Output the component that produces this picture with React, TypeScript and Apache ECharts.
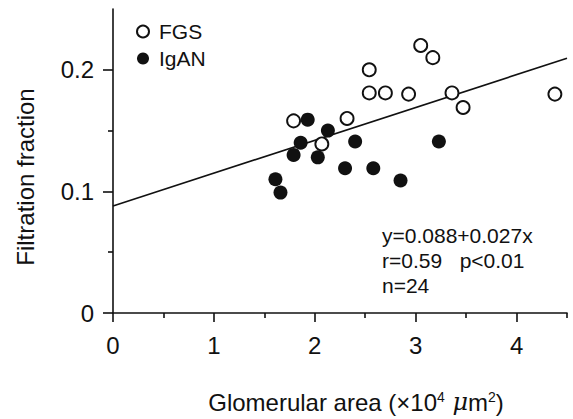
import React, { useEffect, useRef } from "react";
import * as echarts from "echarts";

const fgsX = [1.79, 2.32, 2.07, 2.54, 2.54, 2.70, 2.93, 3.05, 3.17, 3.36, 3.47, 4.38];
const fgsY = [0.158, 0.160, 0.139, 0.200, 0.181, 0.181, 0.180, 0.220, 0.210, 0.181, 0.169, 0.180];
const iganX = [1.93, 2.13, 1.86, 1.79, 2.03, 2.40, 2.30, 2.58, 2.85, 3.23, 1.61, 1.66];
const iganY = [0.159, 0.150, 0.140, 0.130, 0.128, 0.141, 0.119, 0.119, 0.109, 0.141, 0.110, 0.099];

const intercept = 0.088;
const slope = 0.027;
const xRange = [0, 4.5];

const xMajorTicks = [0, 1, 2, 3, 4];
const xMinorTicks = [0.5, 1.5, 2.5, 3.5, 4.5];
const yMajorTicks = [0, 0.1, 0.2];
const yMinorTicks = [0.05, 0.15];

const statLines = ["y=0.088+0.027x", "r=0.59   p<0.01", "n=24"];

const FONT = "'Liberation Sans', Arial, Helvetica, sans-serif";
const INK = "#111111";

export default function App() {
  const ref = useRef<HTMLDivElement>(null);
  useEffect(() => {
    if (!ref.current) return;
    const chart = echarts.init(ref.current, null, { renderer: "svg" });
    const zip = (xs: number[], ys: number[]) => xs.map((x, i) => [x, ys[i]]);
    const lineData = xRange.map((x) => [x, intercept + slope * x]);
    const baseX = { type: "value", min: 0, max: 4.5, splitLine: { show: false } };
    const baseY = { type: "value", min: 0, max: 0.25, splitLine: { show: false } };
    chart.setOption({
      animation: false,
      textStyle: { fontFamily: FONT, color: INK },
      grid: { left: 113, right: 6, top: 9, bottom: 100 },
      legend: {
        orient: "vertical",
        left: 131,
        top: 16,
        itemWidth: 22,
        itemHeight: 12,
        itemGap: 6,
        data: ["FGS", "IgAN"],
        textStyle: { fontSize: 21, fontFamily: FONT, color: INK },
      },
      xAxis: [
        {
          ...baseX,
          position: "bottom",
          axisLine: { lineStyle: { color: INK, width: 1.6 } },
          axisTick: { length: 9, customValues: xMajorTicks, lineStyle: { color: INK, width: 1.6 } },
          axisLabel: { customValues: xMajorTicks, margin: 20, fontSize: 24, color: INK, fontFamily: FONT },
          name: "{t|Glomerular area (×10}{s|4}{m| μ}{t|m}{s|2}{t|)}",
          nameLocation: "middle",
          nameGap: 77,
          nameTextStyle: {
            padding: [0, 0, 0, 32],
            rich: {
              t: { fontSize: 24, fontFamily: FONT, color: INK },
              s: { fontSize: 14, fontFamily: FONT, color: INK, verticalAlign: "top", padding: [0, 0, 9, 0] },
              m: { fontSize: 24, fontFamily: "'DejaVu Serif', serif", fontStyle: "italic", color: INK },
            },
          },
        },
        {
          ...baseX,
          position: "bottom",
          offset: 0,
          axisLine: { show: false },
          axisTick: { length: 5, customValues: xMinorTicks, lineStyle: { color: INK, width: 1.6 } },
          axisLabel: { show: false },
        },
      ],
      yAxis: [
        {
          ...baseY,
          position: "left",
          axisLine: { lineStyle: { color: INK, width: 1.6 } },
          axisTick: { length: 10, customValues: yMajorTicks, lineStyle: { color: INK, width: 1.6 } },
          axisLabel: {
            customValues: yMajorTicks,
            margin: 19,
            fontSize: 24,
            color: INK,
            fontFamily: FONT,
            formatter: (v: number) => (v === 0 ? "0" : String(v)),
          },
          name: "Filtration fraction",
          nameLocation: "middle",
          nameGap: 76,
          nameTextStyle: { fontSize: 24, fontFamily: FONT, color: INK, padding: [0, 32, 0, 0] },
        },
        {
          ...baseY,
          position: "left",
          offset: 0,
          axisLine: { show: false },
          axisTick: { length: 5, customValues: yMinorTicks, lineStyle: { color: INK, width: 1.6 } },
          axisLabel: { show: false },
        },
      ],
      graphic: [
        {
          type: "text",
          left: 382,
          top: 223,
          style: {
            text: statLines.join("\n"),
            font: `21px ${FONT}`,
            lineHeight: 25,
            fill: INK,
          },
        },
      ],
      series: [
        {
          type: "line",
          data: lineData,
          showSymbol: false,
          lineStyle: { color: INK, width: 1.6 },
          silent: true,
          z: 1,
        },
        {
          name: "FGS",
          type: "scatter",
          data: zip(fgsX, fgsY),
          symbolSize: 13,
          itemStyle: { color: "#ffffff", borderColor: INK, borderWidth: 1.9, opacity: 1 },
          z: 3,
        },
        {
          name: "IgAN",
          type: "scatter",
          data: zip(iganX, iganY),
          symbolSize: 14,
          itemStyle: { color: INK, opacity: 1 },
          z: 3,
        },
      ],
    });
    return () => chart.dispose();
  }, []);
  return <div ref={ref} style={{ width: 573, height: 419, position: "absolute", left: 0, top: 0 }} />;
}
